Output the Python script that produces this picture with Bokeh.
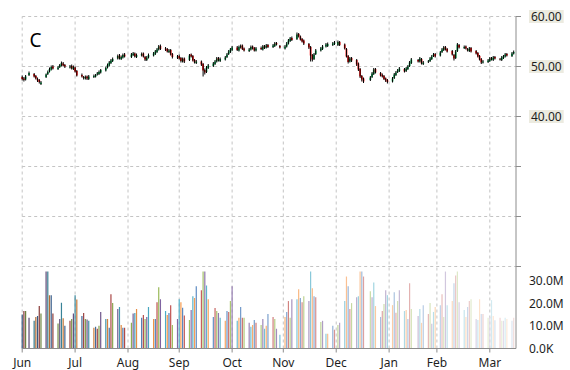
import pandas as pd
from bokeh.plotting import figure
from bokeh.models import Range1d, Label, ColumnDataSource
from bokeh.core.properties import value
from bokeh.embed import file_html
from bokeh.resources import INLINE

# ---------------- data ----------------
symbol = "C"
start_date = "2013-07-01"
end_date = "2014-04-15"
holidays = ["2013-07-04", "2013-09-02", "2013-11-28", "2013-12-25",
            "2014-01-01", "2014-01-20", "2014-02-17"]

# tick positions (month starts) and the labels the reference shows there
month_starts = ["2013-07-01", "2013-08-01", "2013-09-01", "2013-10-01", "2013-11-01",
                "2013-12-01", "2014-01-01", "2014-02-01", "2014-03-01", "2014-04-01"]
month_labels = ["Jun", "Jul", "Aug", "Sep", "Oct", "Nov", "Dec", "Jan", "Feb", "Mar"]

price_ticks = [10, 20, 30, 40, 50, 60]
price_tick_labels = {60: "60.00", 50: "50.00", 40: "40.00"}
volume_ticks = [0, 10e6, 20e6, 30e6]
volume_tick_labels = ["0.0K", "10.0M", "20.0M", "30.0M"]

open_ = [
    47.9, 47.6, 47.4, 48.3,
    48.5, 48.1, 47.5, 47.3, 46.5,
    47.9, 48.5, 49.0, 49.4, 50.0,
    49.5, 49.9, 50.2, 50.6, 50.3,
    49.8, 50.1, 49.5, 49.8, 49.1,
    48.3, 47.9, 47.6, 48.0, 47.5,
    47.9, 48.0, 48.4, 48.5, 48.8,
    49.2, 49.8, 50.2, 50.7, 51.1,
    51.6, 52.2, 51.5, 51.8, 52.4,
    51.9, 52.3, 52.6, 51.9,
    52.2, 52.6, 51.9, 51.3, 51.8,
    52.2, 52.5, 52.9, 53.4, 54.1,
    53.6, 53.5, 52.9, 53.3, 52.5,
    51.8, 52.1, 51.7, 51.0, 51.6,
    51.3, 52.4, 52.1, 51.3, 50.7,
    51.0, 50.5, 49.3, 48.9, 49.7,
    50.1, 50.5, 51.0, 51.7, 51.1,
    51.4, 51.9, 52.5, 52.9, 53.3,
    53.8, 53.2, 53.8, 54.2, 53.6,
    53.1, 53.4, 54.0, 53.7, 53.2,
    53.7, 53.4, 54.1, 53.8, 54.3,
    53.9, 54.1, 54.7, 54.1,
    53.6, 54.0, 54.6, 55.1, 55.7,
    55.5, 56.5, 56.0, 55.5, 55.2,
    54.5, 53.9, 52.3, 51.5, 52.5,
    53.2, 53.5, 54.0, 54.1,
    54.3, 54.5, 54.3, 54.9,
    54.4, 53.5, 52.1, 51.0, 51.7,
    51.3, 50.6, 49.5, 48.1, 47.6,
    47.3, 47.9, 48.5, 49.5,
    48.7, 48.3, 48.1, 47.6, 47.3,
    47.0, 47.7, 48.3, 48.9, 49.1,
    49.5, 49.1, 49.5, 50.1, 50.7,
    51.3, 51.0, 51.5, 50.5,
    50.9, 51.1, 51.5, 52.1, 52.5,
    52.2, 52.9, 53.3, 53.9, 53.5,
    53.1, 52.3, 51.7, 53.1, 54.3,
    53.7, 54.0, 53.5, 53.1, 53.7,
    53.1, 52.7, 52.1, 51.5, 50.8,
    50.9, 51.1, 51.7, 51.3, 51.9,
    51.5, 51.3, 51.7, 52.0, 52.5,
    52.1, 52.6,
]

high_ = [
    48.2, 47.9, 48.3, 49.0,
    48.7, 48.3, 47.8, 47.5, 47.1,
    48.6, 49.2, 49.8, 50.2, 50.3,
    50.1, 50.5, 51.0, 50.9, 50.5,
    50.3, 50.4, 50.2, 50.0, 49.3,
    48.6, 48.1, 48.2, 48.2, 48.3,
    48.4, 48.5, 48.9, 49.2, 49.5,
    50.0, 50.6, 51.1, 51.5, 51.8,
    52.4, 52.5, 52.2, 52.6, 52.7,
    52.7, 52.9, 52.8, 52.6,
    52.8, 52.8, 52.1, 52.1, 52.6,
    52.9, 53.3, 53.7, 54.3, 54.4,
    53.9, 53.7, 53.5, 53.5, 52.7,
    52.3, 52.4, 51.9, 51.8, 51.8,
    52.5, 52.6, 52.3, 51.5, 51.3,
    51.2, 50.7, 49.6, 50.1, 50.5,
    50.9, 51.3, 51.9, 51.9, 51.8,
    52.1, 52.7, 53.3, 53.7, 54.1,
    54.1, 54.2, 54.4, 54.4, 53.8,
    53.7, 54.2, 54.2, 53.9, 53.9,
    54.0, 54.3, 54.3, 54.5, 54.5,
    54.5, 54.9, 54.9, 54.3,
    54.3, 54.9, 55.5, 55.9, 56.0,
    56.8, 56.7, 56.2, 55.7, 55.4,
    54.7, 54.1, 52.5, 52.7, 53.5,
    53.9, 54.3, 54.7, 54.8,
    54.9, 55.1, 55.2, 55.1,
    54.6, 53.7, 52.3, 51.9, 51.9,
    51.5, 50.8, 49.7, 48.3, 47.8,
    48.1, 48.9, 49.7, 49.7,
    48.9, 48.6, 48.3, 47.8, 47.5,
    47.9, 48.7, 49.1, 49.5, 49.9,
    49.7, 49.9, 50.3, 51.1, 51.7,
    51.5, 51.9, 51.7, 51.1,
    51.3, 51.9, 52.3, 52.7, 52.7,
    53.1, 53.7, 54.1, 54.1, 53.7,
    53.3, 52.5, 53.3, 54.7, 54.5,
    54.2, 54.2, 53.7, 53.9, 53.9,
    53.3, 52.9, 52.3, 51.7, 51.3,
    51.5, 51.9, 51.9, 52.1, 52.1,
    51.7, 52.1, 52.3, 52.7, 52.7,
    52.9, 53.2,
]

low_ = [
    47.2, 47.0, 47.2, 48.1,
    47.8, 47.4, 46.9, 46.6, 46.3,
    47.7, 48.3, 48.8, 49.2, 49.4,
    49.3, 49.7, 50.0, 50.0, 49.7,
    49.6, 49.4, 49.3, 48.8, 48.0,
    47.8, 47.4, 47.4, 47.3, 47.3,
    47.7, 47.8, 48.2, 48.3, 48.6,
    49.0, 49.6, 50.0, 50.5, 50.9,
    51.4, 51.4, 51.3, 51.6, 51.8,
    51.7, 52.1, 51.8, 51.7,
    52.0, 51.8, 51.1, 51.1, 51.6,
    52.0, 52.3, 52.7, 53.2, 53.3,
    53.1, 52.8, 52.7, 52.2, 51.6,
    51.5, 51.4, 50.8, 50.8, 50.7,
    51.1, 51.8, 51.0, 50.6, 50.5,
    50.1, 48.0, 48.4, 48.7, 49.5,
    49.9, 50.3, 50.8, 51.0, 50.9,
    51.2, 51.7, 52.3, 52.7, 53.1,
    53.1, 53.0, 53.6, 53.3, 53.0,
    52.9, 53.2, 53.4, 53.0, 53.0,
    53.3, 53.2, 53.5, 53.6, 53.7,
    53.7, 53.9, 54.2, 53.6,
    53.4, 53.8, 54.4, 54.9, 55.1,
    55.3, 55.8, 55.2, 54.8, 54.3,
    53.5, 51.0, 51.0, 51.3, 52.3,
    53.0, 53.3, 53.8, 53.9,
    54.1, 54.3, 54.1, 54.1,
    53.4, 51.8, 50.6, 50.8, 50.9,
    50.1, 49.1, 47.7, 47.0, 46.7,
    47.1, 47.7, 48.3, 48.6,
    48.0, 47.8, 47.3, 46.9, 46.6,
    46.8, 47.5, 48.1, 48.7, 48.9,
    48.8, 48.9, 49.3, 49.9, 50.5,
    50.8, 50.8, 50.4, 50.3,
    50.7, 50.9, 51.3, 51.9, 51.8,
    52.0, 52.7, 53.1, 53.2, 52.8,
    52.2, 51.2, 51.5, 52.9, 53.6,
    53.5, 53.4, 53.0, 52.9, 52.8,
    52.4, 51.8, 51.2, 50.5, 50.6,
    50.7, 50.9, 51.2, 51.1, 51.4,
    51.2, 51.1, 51.5, 51.8, 52.0,
    51.9, 52.4,
]

close_ = [
    47.5, 47.3, 48.0, 48.7,
    48.0, 47.6, 47.2, 46.9, 46.8,
    48.4, 48.9, 49.5, 49.9, 49.6,
    49.8, 50.3, 50.7, 50.2, 50.0,
    50.0, 49.6, 49.9, 49.0, 48.2,
    48.0, 47.7, 47.9, 47.6, 48.0,
    48.1, 48.3, 48.6, 48.9, 49.3,
    49.7, 50.3, 50.8, 51.2, 51.5,
    52.1, 51.6, 51.9, 52.3, 52.0,
    52.4, 52.6, 52.0, 52.3,
    52.5, 52.0, 51.4, 51.8, 52.3,
    52.6, 53.0, 53.4, 54.0, 53.5,
    53.4, 53.0, 53.2, 52.4, 51.9,
    52.0, 51.6, 51.1, 51.5, 51.0,
    52.2, 52.0, 51.2, 50.8, 51.0,
    50.4, 49.2, 48.8, 49.8, 50.2,
    50.6, 51.0, 51.6, 51.2, 51.5,
    51.8, 52.4, 53.0, 53.4, 53.8,
    53.3, 53.9, 54.1, 53.5, 53.2,
    53.4, 53.9, 53.6, 53.2, 53.6,
    53.5, 54.0, 53.7, 54.2, 53.9,
    54.2, 54.6, 54.4, 53.8,
    54.0, 54.6, 55.2, 55.6, 55.3,
    56.4, 56.0, 55.4, 55.0, 54.6,
    53.8, 52.2, 51.4, 52.4, 53.2,
    53.6, 54.0, 54.4, 54.5,
    54.6, 54.8, 54.9, 54.3,
    53.6, 52.0, 50.9, 51.6, 51.2,
    50.4, 49.4, 48.0, 47.4, 47.0,
    47.8, 48.6, 49.4, 48.8,
    48.2, 48.0, 47.5, 47.2, 46.9,
    47.6, 48.4, 48.8, 49.2, 49.6,
    49.0, 49.6, 50.0, 50.8, 51.4,
    51.0, 51.6, 50.6, 50.8,
    51.0, 51.6, 52.0, 52.4, 52.0,
    52.8, 53.4, 53.8, 53.4, 53.0,
    52.4, 51.6, 53.0, 54.4, 53.8,
    53.9, 53.6, 53.2, 53.6, 53.0,
    52.6, 52.0, 51.4, 50.8, 51.0,
    51.2, 51.6, 51.4, 51.8, 51.6,
    51.4, 51.8, 52.0, 52.4, 52.2,
    52.6, 52.9,
]

volume_millions = [
    15.0, 16.5, 16.5, 13.6,
    12.2, 13.9, 14.3, 18.7, 15.4,
    33.9, 33.9, 23.5, 23.5, 15.4,
    11.0, 13.0, 20.1, 13.3, 10.0,
    12.2, 13.0, 15.4, 23.5, 21.6,
    14.3, 15.6, 13.0, 12.8, 12.2,
    9.1, 9.6, 8.7, 10.0, 16.1,
    13.0, 13.0, 9.1, 23.9, 20.0,
    17.4, 18.3, 10.4, 9.1, 9.1,
    11.3, 15.4, 15.6, 17.4,
    13.5, 14.8, 13.0, 13.9, 18.3,
    13.0, 13.0, 20.4, 27.0, 21.7,
    16.5, 14.8, 15.6, 19.1, 10.4,
    13.0, 21.7, 20.4, 18.0, 14.5,
    12.6, 17.0, 23.0, 22.2, 27.4,
    25.7, 33.9, 33.9, 27.8, 21.7,
    13.9, 17.8, 16.5, 15.6, 13.5,
    12.2, 16.5, 16.1, 20.9, 27.4,
    12.2, 13.5, 18.3, 13.5, 13.5,
    11.3, 9.6, 10.4, 12.6, 11.3,
    10.4, 13.0, 8.7, 10.0, 15.2,
    13.9, 13.0, 8.7, 6.1,
    13.9, 16.1, 20.9, 13.5, 21.7,
    21.7, 26.1, 22.2, 20.4, 23.0,
    20.9, 33.9, 26.5, 23.0, 22.6,
    11.7, 12.2, 6.5, 6.5,
    10.0, 8.3, 10.4, 11.3,
    20.9, 31.7, 27.4, 17.4, 20.0,
    22.6, 23.0, 33.9, 33.9, 31.7,
    25.2, 22.6, 29.1, 18.7,
    13.9, 16.5, 19.6, 25.7, 23.5,
    19.1, 24.8, 15.7, 20.9, 25.7,
    16.5, 17.0, 13.0, 28.7, 17.4,
    14.3, 17.4, 11.3, 19.1,
    15.2, 20.0, 10.9, 16.1, 18.3,
    19.1, 23.9, 13.9, 33.9, 19.1,
    20.9, 28.7, 32.2, 33.9, 20.4,
    17.0, 13.9, 18.3, 20.9, 21.7,
    13.0, 12.6, 21.7, 15.2, 15.2,
    13.5, 13.9, 21.3, 14.3, 12.5,
    13.5, 12.2, 12.2, 13.5, 13.0,
    12.2, 13.5,
]

# ---------------- build ----------------
dates = pd.bdate_range(start_date, end_date, freq="C", holidays=holidays)
n = len(dates)
assert n == len(open_) == len(high_) == len(low_) == len(close_) == len(volume_millions)

DAY = 86400000.0
palette = ["#4F81BD", "#C0504D", "#9BBB59", "#8064A2", "#4BACC6", "#F79646"]


def shade(hexc, t):
    r, g, b = (int(hexc[i:i + 2], 16) for i in (1, 3, 5))
    if t < 0:
        r, g, b = (v * (1 + t) for v in (r, g, b))
    else:
        r, g, b = (v + (255 - v) * t for v in (r, g, b))
    return "#%02x%02x%02x" % tuple(int(round(v)) for v in (r, g, b))


vol_colors = [shade(palette[i % 6], -0.33 + 1.13 * i / (n - 1)) for i in range(n)]
body_colors = ["#00b050" if c >= o else "#ff0000" for o, c in zip(open_, close_)]

src = ColumnDataSource(dict(
    date=dates, open=open_, high=high_, low=low_, close=close_,
    volume=[v * 1e6 for v in volume_millions], vcolor=vol_colors, bcolor=body_colors,
))

# ---- layout (pixels); the frame covers the whole canvas ----
W, H = 570, 370
first_tick_px = 21.7        # x of the first month tick
value_axis_px = 515.5       # x of the value axis line
px_per_day = 1.7066
top_px, axis_px = 16, 348   # price 60 row, bottom axis row
px_per_price = 5.0
px_per_mvol = 2.27

t0 = pd.Timestamp(start_date)
x_lo = t0 - pd.Timedelta(days=first_tick_px / px_per_day)
x_hi = x_lo + pd.Timedelta(days=W / px_per_day)
x_edge_ms = (x_lo + pd.Timedelta(days=value_axis_px / px_per_day)).value / 1e6
x_start_ms = t0.value / 1e6


def prow(px):
    """price value at a given pixel row"""
    return 60.0 - (px - top_px) / px_per_price


p = figure(width=W, height=H, x_axis_location=None, y_axis_location=None,
           x_range=Range1d(x_lo, x_hi), y_range=Range1d(prow(H), prow(0)),
           output_backend="svg", toolbar_location=None,
           min_border_left=0, min_border_right=0, min_border_top=0, min_border_bottom=0)
p.extra_y_ranges = {"vol": Range1d(-(H - axis_px) / px_per_mvol * 1e6, axis_px / px_per_mvol * 1e6)}
p.outline_line_color = None
p.background_fill_color = "white"
p.border_fill_color = "white"
p.xgrid.visible = False
p.ygrid.visible = False

grid_color = "#c4c4c4"
axis_color = "#8c8c8c"
text_color = "#1e1e1e"
tick_ms = [pd.Timestamp(s).value / 1e6 for s in month_starts]
nt, npt = len(tick_ms), len(price_ticks)

# dashed grid
p.segment(x0=tick_ms, y0=[prow(axis_px)] * nt, x1=tick_ms, y1=[60] * nt,
          line_color=grid_color, line_dash="3 3", line_width=1, level="underlay")
p.segment(x0=[x_start_ms] * npt, y0=price_ticks, x1=[x_edge_ms] * npt, y1=price_ticks,
          line_color=grid_color, line_dash="3 3", line_width=1, level="underlay")

# volume bars
p.vbar(x="date", width=0.7 * DAY, top="volume", bottom=0, y_range_name="vol",
       source=src, fill_color="vcolor", line_color=None)

# candles: coloured body with the black high-low wick drawn over it
p.vbar(x="date", width=1.0 * DAY, top="close", bottom="open", source=src,
       fill_color="bcolor", line_color=None)
p.segment(x0="date", y0="low", x1="date", y1="high", source=src,
          line_color="black", line_width=1)

# bottom (time) axis
tick_out_days = 5 / px_per_day * DAY
p.segment(x0=[x_start_ms], y0=[prow(axis_px)], x1=[x_edge_ms], y1=[prow(axis_px)],
          line_color=axis_color, line_width=1)
p.segment(x0=tick_ms, y0=[prow(axis_px)] * nt, x1=tick_ms, y1=[prow(axis_px + 4)] * nt,
          line_color=axis_color, line_width=1)
p.text(x=tick_ms, y=[prow(axis_px + 13.5)] * nt, text=month_labels,
       text_font=value("Noto Sans"), text_font_size=value("12px"),
       text_color=text_color, text_align="center", text_baseline="alphabetic")

# value axis (right edge of the charting area)
p.segment(x0=[x_edge_ms], y0=[prow(axis_px)], x1=[x_edge_ms], y1=[60],
          line_color=axis_color, line_width=1)
p.segment(x0=[x_edge_ms] * npt, y0=price_ticks,
          x1=[x_edge_ms + tick_out_days] * npt, y1=price_ticks,
          line_color=axis_color, line_width=1)

for t in price_ticks:
    if t in price_tick_labels:
        p.add_layout(Label(x=x_edge_ms, y=t, x_offset=13, text=price_tick_labels[t],
                           text_font="Noto Sans", text_font_size="12px",
                           text_color=text_color, text_baseline="middle",
                           text_align="left", background_fill_color="#ecebe0",
                           padding=2))
for v, lab in zip(volume_ticks, volume_tick_labels):
    p.add_layout(Label(x=x_edge_ms, y=v, x_offset=13, y_range_name="vol", text=lab,
                       text_font="Noto Sans", text_font_size="12px",
                       text_color=text_color, text_baseline="middle", text_align="left"))

# symbol
p.add_layout(Label(x=29, y=H - 39.5, x_units="screen", y_units="screen",
                   text=symbol, text_font="Noto Sans", text_font_size="19px",
                   text_color="black", text_baseline="alphabetic"))

open("out.html", "w").write(file_html(p, INLINE))
